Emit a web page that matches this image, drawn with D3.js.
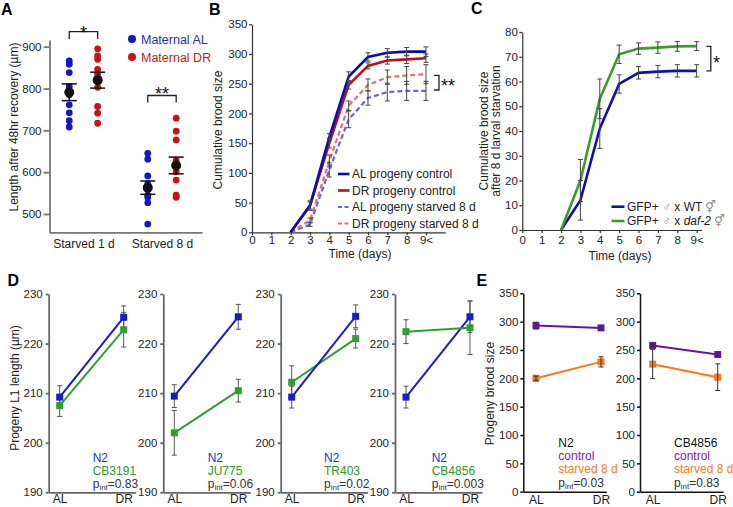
<!DOCTYPE html>
<html><head><meta charset="utf-8">
<script src="https://cdn.jsdelivr.net/npm/d3@7"></script>
<style>body{margin:0;background:#fff}svg{display:block}</style>
</head><body>
<svg id="c" width="733" height="507"></svg>
<script>
// ---------- DATA ----------
// Panel A
const aCategories = ["Starved 1 d", "Starved 8 d"];
const aGroups = ["Maternal AL", "Maternal DR"];
const aS1AL = [866, 858, 838, 805, 795, 785, 761, 742, 723, 708];
const aS1DR = [895, 878, 870, 846, 835, 820, 803, 757, 741, 717];
const aS8AL = [645, 631, 591, 572, 560, 545, 540, 527, 476];
const aS8DR = [729, 698, 677, 628, 601, 581, 545, 540];
const aMeans = [791, 820, 563, 616];
const aSems = [20, 19, 16, 20];
const aTicks = [500, 600, 700, 800, 900];
// Panel B
const bTickLabels = ["0", "1", "2", "3", "4", "5", "6", "7", "8", "9<"];
const bDays = [2, 3, 4, 5, 6, 7, 8, 9];
const bALControl = [0, 45, 160, 262, 295, 302, 304, 304];
const bALControlErr = [0, 6, 6, 8, 7, 7, 7, 8];
const bDRControl = [0, 45, 150, 248, 280, 289, 291, 293];
const bDRControlErr = [0, 8, 8, 7, 5, 6, 7, 7];
const bALStarved = [0, 13, 105, 190, 226, 236, 238, 238];
const bALStarvedErr = [0, 3, 12, 14, 12, 15, 16, 16];
const bDRStarved = [0, 20, 120, 213, 248, 261, 264, 266];
const bDRStarvedErr = [0, 4, 10, 8, 10, 12, 15, 16];
const bSeriesNames = ["AL progeny control", "DR progeny control", "AL progeny starved 8 d", "DR progeny starved 8 d"];
const bTicks = [0, 50, 100, 150, 200, 250, 300, 350];
// Panel C
const cDays = [2, 3, 4, 5, 6, 7, 8, 9];
const cWT = [0, 12, 41, 59, 63.5, 64, 64.3, 64.3];
const cWTErr = [0, 8, 8, 3.7, 2.5, 2.5, 2.5, 2.5];
const cDaf2 = [0, 20, 53, 71, 73.3, 73.7, 74.2, 74.3];
const cDaf2Err = [0, 8.5, 8, 3.7, 2.3, 2.3, 2, 1.8];
const cTicks = [0, 10, 20, 30, 40, 50, 60, 70, 80];
// Panel D
const dConditions = ["AL", "DR"];
const dStrains = ["CB3191", "JU775", "TR403", "CB4856"];
const dPint = ["0.83", "0.06", "0.02", "0.003"];
const dN2AL = [209.2, 209.4, 209.2, 209.2];
const dN2ALErr = [2.3, 2.3, 2.2, 2.2];
const dN2DR = [225.3, 225.4, 225.5, 225.4];
const dN2DRErr = [2.3, 2.5, 2.3, 3.2];
const dStrainAL = [207.5, 202.0, 212.2, 222.4];
const dStrainALErr = [2.2, 4.5, 3.3, 2.4];
const dStrainDR = [222.8, 210.5, 221.0, 223.2];
const dStrainDRErr = [3.5, 2.3, 1.9, 5.4];
const dTicks = [190, 200, 210, 220, 230];
// Panel E
const eStrains = ["N2", "CB4856"];
const ePint = ["0.03", "0.83"];
const eControlAL = [293, 258];
const eControlALErr = [6, 2];
const eControlDR = [289, 242];
const eControlDRErr = [3, 2];
const eStarvedAL = [200, 225];
const eStarvedALErr = [4, 25.6];
const eStarvedDR = [229, 202];
const eStarvedDRErr = [9, 23.5];
const eTicks = [0, 50, 100, 150, 200, 250, 300, 350];

// ---------- DRAW ----------
const F = '"Liberation Sans", Arial, Helvetica, sans-serif';
const svg = d3.select("#c");

function styleAxis(g, fs, color, sw, textColor) {
  g.attr("font-family", F).attr("font-size", fs);
  g.selectAll("text").attr("fill", textColor || "#222");
  g.selectAll("line").attr("stroke", color).attr("stroke-width", sw);
  g.select(".domain").attr("stroke", color).attr("stroke-width", sw);
}
function label(x, y, str, o = {}) {
  const t = svg.append("text").attr("x", x).attr("y", y).text(str)
    .attr("font-family", F).attr("font-size", o.size || 12)
    .attr("fill", o.fill || "#222").attr("text-anchor", o.anchor || "start");
  if (o.weight) t.attr("font-weight", o.weight);
  if (o.rotate) t.attr("transform", `rotate(-90,${x},${y})`);
  return t;
}
function errBar(g, x, y0, y1, cap, color, sw) {
  g.append("line").attr("x1", x).attr("x2", x).attr("y1", y0).attr("y2", y1).attr("stroke", color).attr("stroke-width", sw);
  [y0, y1].forEach(y => g.append("line").attr("x1", x - cap).attr("x2", x + cap).attr("y1", y).attr("y2", y).attr("stroke", color).attr("stroke-width", sw));
}
function bracket(x0, x1, y, legY) {
  svg.append("path").attr("d", `M${x0},${legY}V${y}H${x1}V${legY}`).attr("fill", "none").attr("stroke", "#222").attr("stroke-width", 1.3);
}
function pint(x, y, val) {
  const t = svg.append("text").attr("x", x).attr("y", y).attr("font-family", F).attr("font-size", 12).attr("fill", "#333");
  t.append("tspan").text("p");
  t.append("tspan").attr("font-size", 8).attr("dy", 2).text("int");
  t.append("tspan").attr("dy", -2).text("=" + val);
}

// ===== Panel A =====
{
  const yA = d3.scaleLinear().domain([456, 916]).range([232.4, 40]);
  const xA = d3.scalePoint().domain(aCategories).range([49.5, 202]).padding(0.471).align(0.459);
  const off = 14.2;
  const blue = "#1616c6", red = "#c41414";
  svg.append("g").attr("transform", "translate(49.5,0)")
    .call(d3.axisLeft(yA).tickValues(aTicks).tickSize(6).tickPadding(2).tickSizeOuter(0))
    .call(g => styleAxis(g, 11.5, "#777", 1.8));
  svg.append("g").attr("transform", "translate(0,232.4)")
    .call(d3.axisBottom(xA).tickSize(0).tickPadding(7.5))
    .call(g => styleAxis(g, 12, "#777", 1.8));
  const series = [
    { cat: aCategories[0], g: 0, vals: aS1AL, m: aMeans[0], s: aSems[0] },
    { cat: aCategories[0], g: 1, vals: aS1DR, m: aMeans[1], s: aSems[1] },
    { cat: aCategories[1], g: 0, vals: aS8AL, m: aMeans[2], s: aSems[2] },
    { cat: aCategories[1], g: 1, vals: aS8DR, m: aMeans[3], s: aSems[3] }
  ];
  series.forEach(sr => {
    const x = xA(sr.cat) + (sr.g === 0 ? -off : off);
    svg.append("g").selectAll("circle").data(sr.vals).join("circle")
      .attr("cx", x).attr("cy", d => yA(d)).attr("r", 3.4).attr("fill", sr.g === 0 ? blue : red);
    const g = svg.append("g");
    g.append("line").attr("x1", x).attr("x2", x).attr("y1", yA(sr.m + sr.s)).attr("y2", yA(sr.m - sr.s)).attr("stroke", "#111").attr("stroke-width", 1.5);
    [sr.m + sr.s, sr.m - sr.s].forEach(v => g.append("line").attr("x1", x - 7.5).attr("x2", x + 7.5).attr("y1", yA(v)).attr("y2", yA(v)).attr("stroke", "#111").attr("stroke-width", 1.5));
    g.append("circle").attr("cx", x).attr("cy", yA(sr.m)).attr("r", 5).attr("fill", "#111");
  });
  // legend
  aGroups.forEach((name, i) => {
    svg.append("circle").attr("cx", 132).attr("cy", 39 + i * 18).attr("r", 4).attr("fill", i ? red : blue);
    label(141, 43.5 + i * 18, name, { size: 12.5, fill: i ? "#c42020" : "#2030c0" });
  });
  // significance
  const x1d = xA(aCategories[0]), x8d = xA(aCategories[1]);
  bracket(x1d - off, x1d + off, 31.7, 39);
  label(x1d, 38.5, "*", { size: 18, anchor: "middle", fill: "#111" });
  bracket(x8d - off, x8d + off, 95.5, 102.5);
  label(x8d, 99.5, "**", { size: 18, anchor: "middle", fill: "#111" });
  label(17.5, 127, "Length after 48hr recovery (µm)", { size: 12, anchor: "middle", rotate: true });
  label(1, 14.5, "A", { size: 16, weight: "bold", fill: "#000" });
}

// ===== Panel B =====
{
  const yB = d3.scaleLinear().domain([0, 350]).range([232.3, 24.3]);
  const xB = d3.scaleLinear().domain([0, 10]).range([252, 445.3]);
  svg.append("g").attr("transform", "translate(252,0)")
    .call(d3.axisLeft(yB).tickValues(bTicks).tickSize(3).tickPadding(1.5).tickSizeOuter(0))
    .call(g => styleAxis(g, 11.5, "#333", 1.2));
  svg.append("g").attr("transform", "translate(0,232.3)")
    .call(d3.axisBottom(xB).tickValues(d3.range(0, 10)).tickFormat(i => bTickLabels[i]).tickSize(3).tickPadding(1).tickSizeOuter(0))
    .call(g => styleAxis(g, 11.5, "#333", 1.2));
  const series = [
    { v: bALControl, e: bALControlErr, c: "#0b0bb0", dash: null, w: 2.6 },
    { v: bDRControl, e: bDRControlErr, c: "#b51212", dash: null, w: 2.6 },
    { v: bALStarved, e: bALStarvedErr, c: "#6464dc", dash: "5,3", w: 2.2 },
    { v: bDRStarved, e: bDRStarvedErr, c: "#e27373", dash: "5,3", w: 2.2 }
  ];
  const line = d3.line().x((d, i) => xB(bDays[i])).y(d => yB(d));
  [2, 3, 1, 0].forEach(k => {
    const s = series[k];
    svg.append("path").datum(s.v).attr("d", line).attr("fill", "none").attr("stroke", s.c)
      .attr("stroke-width", s.w).attr("stroke-dasharray", s.dash);
  });
  const eg = svg.append("g");
  series.forEach(s => s.v.forEach((v, i) => {
    if (s.e[i] > 0) errBar(eg, xB(bDays[i]), yB(v + s.e[i]), yB(v - s.e[i]), 2.5, "#444", 1);
  }));
  // legend
  bSeriesNames.forEach((n, i) => {
    const y = 174 + i * 16.5;
    svg.append("line").attr("x1", 338).attr("x2", 349.5).attr("y1", y).attr("y2", y)
      .attr("stroke", series[i].c).attr("stroke-width", series[i].w).attr("stroke-dasharray", series[i].dash ? "4,2.5" : null);
    label(352, y + 4.3, n, { size: 12 });
  });
  svg.append("path").attr("d", "M434,75.3H439V90H434").attr("fill", "none").attr("stroke", "#222").attr("stroke-width", 1.3);
  label(441, 92, "**", { size: 18, fill: "#111" });
  label(360, 258, "Time (days)", { size: 12, anchor: "middle" });
  label(222, 130, "Cumulative brood size", { size: 12, anchor: "middle", rotate: true });
  label(209, 14.5, "B", { size: 16, weight: "bold", fill: "#000" });
}

// ===== Panel C =====
{
  const yC = d3.scaleLinear().domain([0, 80]).range([230, 32]);
  const xC = d3.scaleLinear().domain([0, 9.26]).range([522.3, 701.7]);
  svg.append("g").attr("transform", "translate(522.3,0)")
    .call(d3.axisLeft(yC).tickValues(cTicks).tickSize(3).tickPadding(1.5).tickSizeOuter(0))
    .call(g => styleAxis(g, 11.5, "#333", 1.2));
  svg.append("g").attr("transform", "translate(0,230)")
    .call(d3.axisBottom(xC).tickValues(d3.range(0, 10)).tickFormat(i => bTickLabels[i]).tickSize(3).tickPadding(2.5).tickSizeOuter(0))
    .call(g => styleAxis(g, 11.5, "#333", 1.2));
  const series = [
    { v: cWT, e: cWTErr, c: "#1010a8" },
    { v: cDaf2, e: cDaf2Err, c: "#3b9b2b" }
  ];
  const line = d3.line().x((d, i) => xC(cDays[i])).y(d => yC(d));
  series.forEach(s => svg.append("path").datum(s.v).attr("d", line).attr("fill", "none").attr("stroke", s.c).attr("stroke-width", 2.6));
  const eg = svg.append("g");
  series.forEach(s => s.v.forEach((v, i) => {
    if (s.e[i] > 0) errBar(eg, xC(cDays[i]), yC(v + s.e[i]), yC(v - s.e[i]), 2.5, "#444", 1);
  }));
  // legend
  [0, 1].forEach(i => {
    const y = 206.7 + i * 14.3;
    svg.append("line").attr("x1", 611.5).attr("x2", 624.5).attr("y1", y).attr("y2", y).attr("stroke", series[i].c).attr("stroke-width", 2.6);
    const t = svg.append("text").attr("x", 627).attr("y", y + 4.3).attr("font-family", F).attr("font-size", 12).attr("fill", "#222");
    t.append("tspan").text("GFP+ ");
    t.append("tspan").attr("fill", "#888").text("♂");
    t.append("tspan").text(" x ");
    if (i === 0) t.append("tspan").text("WT ");
    else t.append("tspan").attr("font-style", "italic").text("daf-2 ");
    t.append("tspan").attr("fill", "#888").text("⚥");
  });
  svg.append("path").attr("d", `M706.5,${yC(74.2)}H710.8V${yC(64.3)}H706.5`).attr("fill", "none").attr("stroke", "#222").attr("stroke-width", 1.3);
  label(713, 69, "*", { size: 18, fill: "#111" });
  label(620, 260, "Time (days)", { size: 12, anchor: "middle" });
  label(488, 131, "Cumulative brood size", { size: 12, anchor: "middle", rotate: true });
  label(500, 131, "after 8 d larval starvation", { size: 12, anchor: "middle", rotate: true });
  label(471, 14, "C", { size: 16, weight: "bold", fill: "#000" });
}

// ===== Panel D =====
{
  const yD = d3.scaleLinear().domain([190, 230]).range([492.3, 294]);
  const axX = [48.7, 163.3, 280.7, 395];
  const blue = "#1c1cc2", green = "#2f9f2f";
  dStrains.forEach((strain, k) => {
    const ax = axX[k];
    const xD = d3.scalePoint().domain(dConditions).range([ax, ax + 87]).padding(0.18).align(0.478);
    svg.append("g").attr("transform", `translate(${ax},0)`)
      .call(d3.axisLeft(yD).tickValues(dTicks).tickSize(3).tickPadding(3).tickSizeOuter(0))
      .call(g => styleAxis(g, 11.5, "#666", 1.8));
    svg.append("g").attr("transform", "translate(0,492.3)")
      .call(d3.axisBottom(xD).tickSize(0).tickPadding(2))
      .call(g => styleAxis(g, 12, "#666", 1.8));
    const groups = [
      { v: [dStrainAL[k], dStrainDR[k]], e: [dStrainALErr[k], dStrainDRErr[k]], c: green },
      { v: [dN2AL[k], dN2DR[k]], e: [dN2ALErr[k], dN2DRErr[k]], c: blue }
    ];
    const eg = svg.append("g");
    groups.forEach(gr => gr.v.forEach((v, i) => errBar(eg, xD(dConditions[i]), yD(v + gr.e[i]), yD(v - gr.e[i]), 2.5, "#555", 1)));
    const line = d3.line().x((d, i) => xD(dConditions[i])).y(d => yD(d));
    (k === 3 ? [groups[1], groups[0]] : groups).forEach(gr => {
      svg.append("path").datum(gr.v).attr("d", line).attr("fill", "none").attr("stroke", gr.c).attr("stroke-width", 2);
      svg.append("g").selectAll("rect").data(gr.v).join("rect")
        .attr("x", (d, i) => xD(dConditions[i]) - 3.5).attr("y", d => yD(d) - 3.5)
        .attr("width", 7).attr("height", 7).attr("fill", gr.c);
    });
    const lx = [92.7, 207.7, 324, 431.7][k];
    label(lx, 461.7, "N2", { size: 12, fill: "#2233cc" });
    label(lx, 475, strain, { size: 12, fill: "#2a9a2a" });
    pint(lx, 487.5, dPint[k]);
  });
  label(19, 388, "Progeny L1 length (µm)", { size: 12, anchor: "middle", rotate: true });
  label(7.5, 285.5, "D", { size: 16, weight: "bold", fill: "#000" });
}

// ===== Panel E =====
{
  const yE = d3.scaleLinear().domain([0, 350]).range([491.7, 293.3]);
  const axX = [523.3, 640];
  const purple = "#6a12a6", orange = "#ff7519";
  eStrains.forEach((strain, k) => {
    const ax = axX[k];
    const xE = d3.scalePoint().domain(dConditions).range([ax, ax + 83]).padding(0.138).align(0.705);
    svg.append("g").attr("transform", `translate(${ax},0)`)
      .call(d3.axisLeft(yE).tickValues(eTicks).tickSize(3).tickPadding(2).tickSizeOuter(0))
      .call(g => styleAxis(g, 11.5, "#111", 1.5));
    svg.append("g").attr("transform", "translate(0,491.7)")
      .call(d3.axisBottom(xE).tickSize(0).tickPadding(3.5))
      .call(g => styleAxis(g, 12, "#111", 1.5));
    const groups = [
      { v: [eControlAL[k], eControlDR[k]], e: [eControlALErr[k], eControlDRErr[k]], c: purple },
      { v: [eStarvedAL[k], eStarvedDR[k]], e: [eStarvedALErr[k], eStarvedDRErr[k]], c: orange }
    ];
    const line = d3.line().x((d, i) => xE(dConditions[i])).y(d => yE(d));
    groups.forEach(gr => {
      svg.append("path").datum(gr.v).attr("d", line).attr("fill", "none").attr("stroke", gr.c).attr("stroke-width", 2);
      svg.append("g").selectAll("rect").data(gr.v).join("rect")
        .attr("x", (d, i) => xE(dConditions[i]) - 3.5).attr("y", d => yE(d) - 3.5)
        .attr("width", 7).attr("height", 7).attr("fill", gr.c);
    });
    const eg = svg.append("g");
    groups.forEach(gr => gr.v.forEach((v, i) => errBar(eg, xE(dConditions[i]), yE(v + gr.e[i]), yE(v - gr.e[i]), 2.5, "#333", 1)));
    const lx = [558.3, 674][k];
    label(lx, 446.7, strain, { size: 12, fill: "#111" });
    label(lx, 460, "control", { size: 12, fill: "#7a22b0" });
    label(lx, 473.3, "starved 8 d", { size: 12, fill: "#ff7a22" });
    pint(lx, 486.5, ePint[k]);
  });
  label(494, 393.5, "Progeny brood size", { size: 12, anchor: "middle", rotate: true });
  label(476.5, 285.5, "E", { size: 16, weight: "bold", fill: "#000" });
}
</script>
</body></html>
